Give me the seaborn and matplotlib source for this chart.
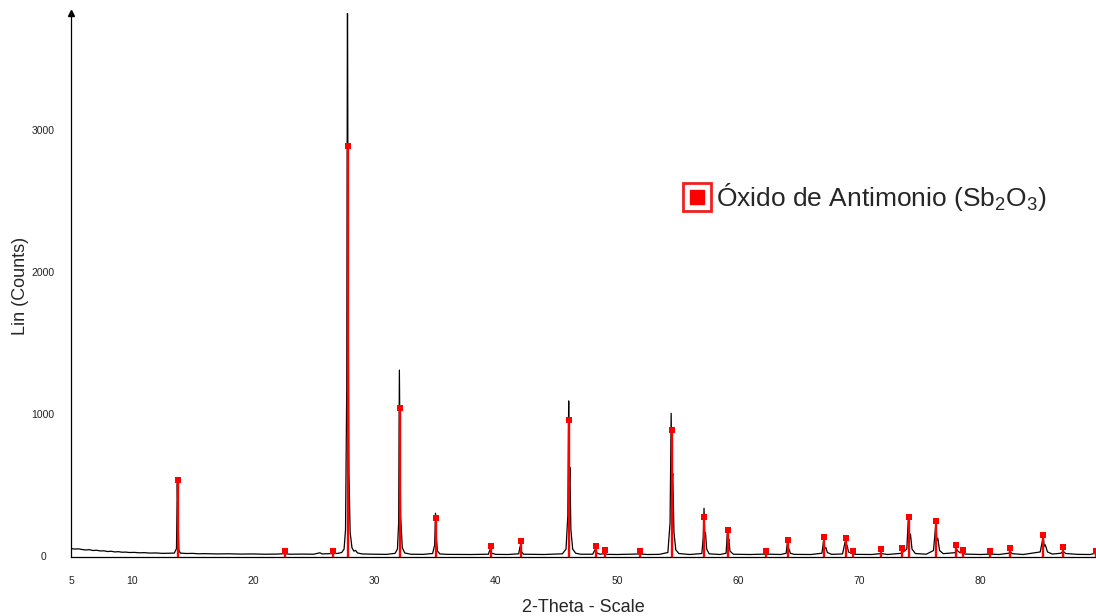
import matplotlib
matplotlib.use("Agg")
import matplotlib.pyplot as plt
from matplotlib.lines import Line2D
from matplotlib.legend_handler import HandlerTuple
import seaborn as sns
import numpy as np

two_theta = [
    5.0, 5.3, 5.6, 5.9, 6.2, 6.5, 6.8, 7.1, 7.4, 7.7,
    8.0, 8.3, 8.6, 8.9, 9.2, 9.5, 9.8, 10.2, 10.6, 11.0,
    11.5, 12.0, 12.5, 13.0, 13.5, 13.68, 13.75, 13.8, 13.88, 14.0,
    14.5, 15.0, 15.5, 16.0, 17.0, 18.0, 19.0, 20.0, 21.0, 22.0,
    22.6, 23.0, 24.0, 25.0, 25.5, 25.7, 26.5, 27.0, 27.3, 27.5,
    27.62, 27.72, 27.78, 27.84, 27.9, 28.0, 28.15, 28.3, 28.45, 28.6,
    29.0, 30.0, 31.0, 31.7, 31.9, 32.0, 32.06, 32.1, 32.16, 32.3,
    32.5, 33.0, 34.0, 34.8, 34.97, 35.04, 35.1, 35.2, 35.4, 36.0,
    38.0, 39.4, 39.52, 39.58, 39.66, 40.0, 41.0, 41.9, 42.0, 42.06,
    42.14, 42.3, 44.0, 45.5, 45.8, 45.95, 46.02, 46.07, 46.12, 46.2,
    46.35, 46.6, 47.0, 48.0, 48.18, 48.25, 48.35, 48.6, 49.0, 49.2,
    50.0, 51.9, 52.5, 53.5, 54.2, 54.38, 54.47, 54.53, 54.6, 54.7,
    54.85, 55.1, 56.0, 57.0, 57.12, 57.18, 57.24, 57.3, 57.4, 57.6,
    58.5, 59.0, 59.1, 59.16, 59.22, 59.32, 59.6, 61.0, 62.3, 63.5,
    63.95, 64.05, 64.1, 64.18, 64.3, 64.6, 66.0, 66.9, 67.05, 67.12,
    67.22, 67.35, 67.7, 68.6, 68.82, 68.88, 68.97, 69.1, 69.4, 69.7,
    71.0, 71.8, 72.3, 73.4, 73.6, 73.9, 74.02, 74.1, 74.2, 74.33,
    74.6, 75.5, 76.1, 76.3, 76.38, 76.46, 76.6, 76.9, 77.9, 78.0,
    78.12, 78.3, 78.5, 78.7, 80.0, 80.8, 81.5, 82.3, 82.45, 82.6,
    83.5, 84.9, 85.15, 85.23, 85.32, 85.5, 85.9, 86.6, 86.79, 87.0,
    88.0, 89.0, 89.5, 89.7,
]
counts = [
    56, 52, 54, 49, 46, 48, 42, 44, 39, 40,
    35, 37, 32, 34, 30, 31, 28, 29, 26, 27,
    24, 25, 22, 23, 24, 55, 515, 290, 45, 24,
    21, 22, 19, 20, 18, 19, 17, 18, 16, 17,
    20, 16, 17, 16, 26, 18, 20, 22, 28, 52,
    190, 1200, 4100, 1800, 590, 170, 62, 38, 43, 25,
    18, 16, 15, 22, 52, 240, 1311, 890, 290, 62,
    25, 16, 15, 21, 82, 304, 140, 38, 18, 15,
    14, 16, 46, 52, 24, 15, 14, 19, 66, 78,
    32, 16, 14, 19, 52, 290, 1094, 490, 627, 190,
    52, 23, 16, 16, 46, 52, 24, 16, 20, 15,
    14, 18, 14, 15, 28, 240, 1007, 490, 585, 170,
    47, 21, 14, 21, 140, 339, 150, 167, 52, 19,
    14, 23, 165, 92, 123, 38, 16, 14, 17, 14,
    23, 97, 52, 54, 23, 15, 14, 23, 116, 57,
    64, 28, 15, 18, 105, 62, 80, 31, 21, 15,
    14, 21, 14, 22, 32, 52, 255, 112, 158, 52,
    21, 16, 42, 235, 112, 128, 42, 20, 27, 52,
    37, 26, 27, 17, 14, 17, 14, 23, 32, 20,
    14, 32, 139, 72, 82, 32, 17, 23, 37, 21,
    15, 14, 23, 16,
]

# ---- reference pattern: Sb2O3 stick positions and intensities ----
ref_pos = [13.78, 22.6, 26.56, 27.80, 32.08, 35.05, 39.58, 42.06, 46.03, 48.24,
           49.0, 51.9, 54.5, 57.2, 59.15, 62.28, 64.07, 67.09, 68.85, 69.45,
           71.79, 73.49, 74.04, 76.33, 77.98, 78.52, 80.75, 82.43, 85.17, 86.79,
           89.5]
ref_int = [540, 39, 41, 2887, 1044, 271, 74, 109, 960, 74,
           44, 39, 890, 276, 186, 39, 118, 139, 132, 39,
           53, 58, 276, 248, 83, 44, 39, 62, 153, 67,
           39]

x_ticks = [5, 10, 20, 30, 40, 50, 60, 70, 80]
y_ticks = [0, 1000, 2000, 3000]
legend_label = "Óxido de Antimonio (Sb$_2$O$_3$)"
x_label = "2-Theta - Scale"
y_label = "Lin (Counts)"

sns.set_style("white")
plt.rcParams["font.family"] = ["Liberation Sans", "DejaVu Sans"]
plt.rcParams["mathtext.fontset"] = "custom"
plt.rcParams["mathtext.rm"] = "Liberation Sans"
plt.rcParams["mathtext.it"] = "Liberation Sans:italic"
plt.rcParams["mathtext.default"] = "regular"

fig = plt.figure(figsize=(10.96, 6.16), dpi=100)
ax = fig.add_axes([71.2 / 1096, (616 - 556.5) / 616, 1 - 71.2 / 1096, (556.5 - 13) / 616])

sns.lineplot(x=two_theta, y=counts, ax=ax, color="black", linewidth=0.9,
             estimator=None, sort=False, zorder=2)
ax.vlines(ref_pos, 0, ref_int, color="#ff0000", linewidth=1.7, zorder=3)
sns.scatterplot(x=ref_pos, y=ref_int, ax=ax, marker="s", color="#ff0000",
                s=22, linewidth=0, zorder=4, legend=False)

ax.set_xlim(5, 89.5)
ax.set_ylim(0, 3822)
ax.set_xticks(x_ticks)
ax.set_xticks(np.arange(6, 90, 1), minor=True)
ax.set_yticks(y_ticks)
ax.set_yticks(np.arange(100, 3822, 100), minor=True)
ax.set_xticklabels([str(t) for t in x_ticks])
ax.set_yticklabels([str(t) for t in y_ticks])

for side in ["top", "right"]:
    ax.spines[side].set_visible(False)
for side in ["left", "bottom"]:
    ax.spines[side].set_linewidth(0.9)
    ax.spines[side].set_color("black")

ax.tick_params(axis="both", which="major", direction="out", length=7.2, width=0.8,
               color="black", labelsize=7.5, labelcolor="#222222")
ax.tick_params(axis="both", which="minor", direction="out", length=3.6, width=0.8,
               color="black")
ax.tick_params(axis="x", which="major", pad=7)
ax.tick_params(axis="y", which="major", pad=13)
for lab in ax.get_yticklabels():
    lab.set_horizontalalignment("center")

ax.set_xlabel(x_label, fontsize=13, labelpad=9)
ax.set_ylabel(y_label, fontsize=13)
ax.yaxis.set_label_coords((20 - 71.2) / (1096 - 71.2), (556.5 - 286) / (556.5 - 13))
ax.yaxis.label.set_verticalalignment("center")

# arrow head at top of y axis
ax.plot([0], [1], marker="^", markersize=4, color="black", transform=ax.transAxes,
        clip_on=False, zorder=6)

outer = Line2D([], [], linestyle="none", marker="s", markersize=20,
               markerfacecolor="white", markeredgecolor="#f02020", markeredgewidth=2.0)
inner = Line2D([], [], linestyle="none", marker="s", markersize=10,
               markerfacecolor="#ff0000", markeredgecolor="#ff0000")
fig.legend([(outer, inner)], [legend_label], handler_map={tuple: HandlerTuple(ndivide=1)},
           loc="center left", bbox_to_anchor=(682.5 / 1096, (616 - 197) / 616),
           bbox_transform=fig.transFigure, frameon=False, fontsize=19,
           handlelength=1.1, handletextpad=0.17, borderpad=0, borderaxespad=0)

fig.savefig("out.png", dpi=100)
